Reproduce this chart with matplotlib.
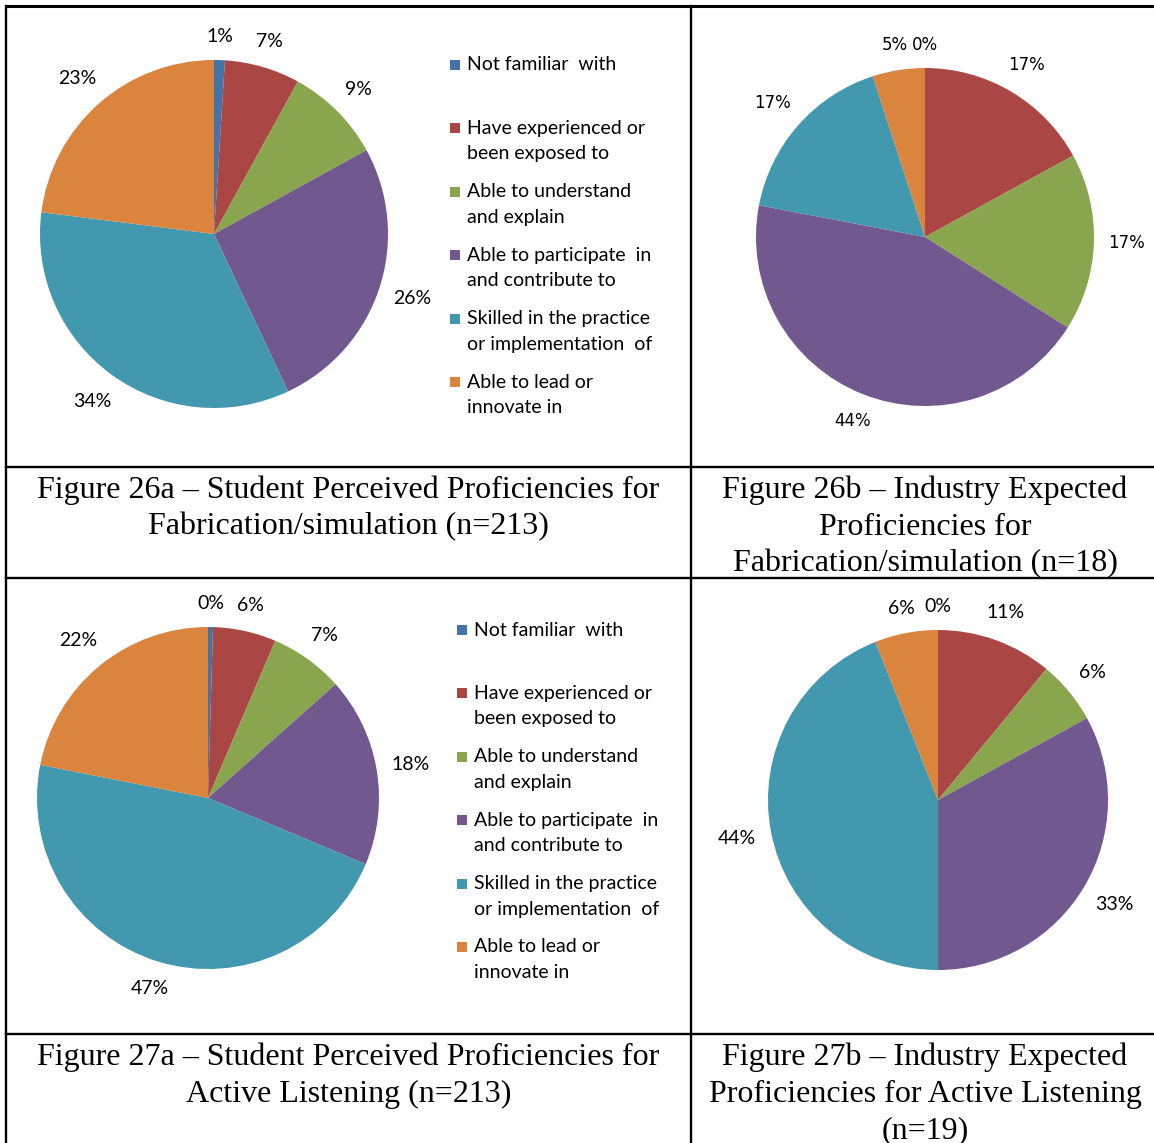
import numpy as np
import matplotlib
matplotlib.use("Agg")
import matplotlib.pyplot as plt
from matplotlib.patches import Rectangle

# ---- data -------------------------------------------------------------
categories = [
    "Not familiar  with",
    "Have experienced or\nbeen exposed to",
    "Able to understand\nand explain",
    "Able to participate  in\nand contribute to",
    "Skilled in the practice\nor implementation  of",
    "Able to lead or\ninnovate in",
]
colors = ["#4572A7", "#AA4643", "#89A54E", "#71588F", "#4198AF", "#DB843D"]

fab_student = [1, 7, 9, 26, 34, 23]         # Figure 26a (n=213)
fab_industry = [0, 17, 17, 44, 17, 5]       # Figure 26b (n=18)
listen_student = [0.47, 6, 7, 18, 47, 22]   # Figure 27a (n=213)
listen_industry = [0, 11, 6, 33, 44, 6]     # Figure 27b (n=19)

captions = [
    "Figure 26a \u2013 Student Perceived Proficiencies for\nFabrication/simulation (n=213)",
    "Figure 26b \u2013 Industry Expected\nProficiencies for\nFabrication/simulation (n=18)",
    "Figure 27a \u2013 Student Perceived Proficiencies for\nActive Listening (n=213)",
    "Figure 27b \u2013 Industry Expected\nProficiencies for Active Listening\n(n=19)",
]

# ---- figure -----------------------------------------------------------
W, H = 1154, 1143
DPI = 100
fig = plt.figure(figsize=(W / DPI, H / DPI), dpi=DPI)
fig.patch.set_facecolor("white")

# page layer in pixel coordinates (y down)
page = fig.add_axes([0, 0, 1, 1])
page.set_xlim(0, W)
page.set_ylim(H, 0)
page.axis("off")

# table rules
lw = 1.7
page.plot([6, 1154], [6, 6], color="black", lw=2.2, solid_capstyle="butt")
page.plot([6, 6], [6, 1143], color="black", lw=lw)
page.plot([691, 691], [6, 1143], color="black", lw=lw)
for y in (466.5, 578, 1034):
    page.plot([6, 1154], [y, y], color="black", lw=lw)

# captions
cap_font = dict(family="Liberation Serif", size=23, color="black")
cap_pos = [(348.5, 498), (925, 498), (348.5, 1065), (925, 1065)]
for text, (cx, by) in zip(captions, cap_pos):
    for i, line in enumerate(text.split("\n")):
        page.text(cx, by + i * 36.7, line, ha="center", va="baseline", **cap_font)


def pie_axes(cx, cy, r):
    ax = fig.add_axes([(cx - r) / W, 1 - (cy + r) / H, 2 * r / W, 2 * r / H])
    return ax


def draw_pie(values, cx, cy, r, label_font):
    ax = pie_axes(cx, cy, r)
    wedges, _ = ax.pie(values, colors=colors, startangle=90, counterclock=False,
                       radius=1.0, wedgeprops=dict(linewidth=0))
    ax.set_xlim(-1, 1)
    ax.set_ylim(-1, 1)
    ax.set_aspect("equal")
    ax.axis("off")
    renderer = fig.canvas.get_renderer()
    total = sum(values)
    gap, hh = 14, 9
    for w, v in zip(wedges, values):
        pct = 100 * v / total
        mid = np.deg2rad((w.theta1 + w.theta2) / 2)
        c, s = np.cos(mid), np.sin(mid)
        t = ax.annotate(f"{pct:.0f}%", xy=(c, s), xytext=(0, 0),
                        textcoords="offset pixels", ha="center", va="center",
                        annotation_clip=False, **label_font)
        bb = t.get_window_extent(renderer)
        d = gap + bb.width / 2 * abs(c) + hh * abs(s)
        t.xyann = (d * c, d * s)
    return ax


def draw_legend(x0, y0, step, font):
    for i, (name, col) in enumerate(zip(categories, colors)):
        y = y0 + i * step
        page.add_patch(Rectangle((x0, y - 5), 10, 10, facecolor=col,
                                 edgecolor="none"))
        for j, line in enumerate(name.split("\n")):
            page.text(x0 + 17, y + j * 25.5, line, ha="left", va="center", **font)


lbl = dict(family="Lato", size=14, color="black")
lbl_wide = dict(family="DejaVu Sans", size=12, color="black")

draw_pie(fab_student, 214, 234, 174, lbl)
draw_legend(450, 65, 63.4, lbl)

draw_pie(fab_industry, 925, 237, 169, lbl_wide)

draw_pie(listen_student, 208, 798, 171, lbl)
draw_legend(457, 630, 63.4, lbl)

draw_pie(listen_industry, 938, 800, 170, lbl)

fig.savefig("out.png", dpi=DPI, facecolor="white")
